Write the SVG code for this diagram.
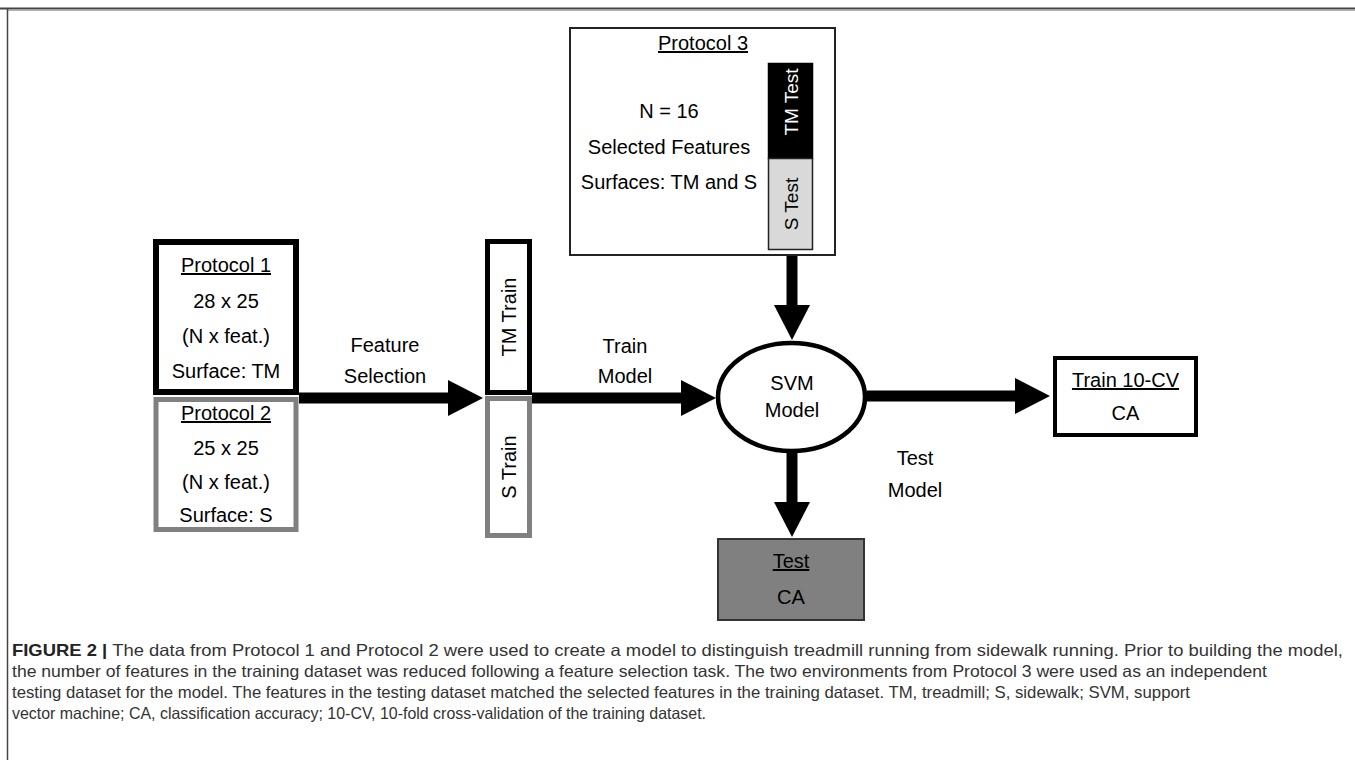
<svg xmlns="http://www.w3.org/2000/svg" width="1355" height="760" viewBox="0 0 1355 760">
<defs>
<style>
.t{font-family:"Liberation Sans",Arial,sans-serif;font-size:20px;fill:#000;text-anchor:middle}
.u{text-decoration:underline}
.cap{font-family:"Liberation Sans",Arial,sans-serif;font-size:16.5px;fill:#333}
.conn{stroke:#000;stroke-width:11;fill:none}
</style>
<marker id="ah" markerUnits="userSpaceOnUse" markerWidth="36" markerHeight="36" refX="15" refY="18" orient="auto">
<path d="M0,0 L35,18 L0,36 z" fill="#000"/>
</marker>
</defs>
<rect x="0" y="0" width="1355" height="760" fill="#fff"/>
<g id="frame">
<line x1="0" y1="8.5" x2="1355" y2="8.5" stroke="#444" stroke-width="2"/>
<line x1="8" y1="10.5" x2="1355" y2="10.5" stroke="#b0b0b0" stroke-width="1"/>
<line x1="7.5" y1="9" x2="7.5" y2="760" stroke="#444" stroke-width="1.5"/>
</g>
<g id="connectors">
<line class="conn" x1="299" y1="398" x2="463" y2="398" marker-end="url(#ah)"/>
<line class="conn" x1="532" y1="398" x2="696" y2="398" marker-end="url(#ah)"/>
<line class="conn" x1="792" y1="256" x2="792" y2="320" marker-end="url(#ah)"/>
<line class="conn" x1="867" y1="396" x2="1030" y2="396" marker-end="url(#ah)"/>
<line class="conn" x1="792" y1="452" x2="792" y2="517" marker-end="url(#ah)"/>
</g>
<g id="labels">
<text class="t" x="385" y="352">Feature</text>
<text class="t" x="385" y="383">Selection</text>
<text class="t" x="625" y="353">Train</text>
<text class="t" x="625" y="383">Model</text>
<text class="t" x="915" y="465">Test</text>
<text class="t" x="915" y="497">Model</text>
</g>
<g id="protocol1">
<rect x="156" y="242" width="140" height="150" fill="#fff" stroke="#000" stroke-width="6"/>
<text class="t u" x="226" y="272">Protocol 1</text>
<text class="t" x="226" y="308">28 x 25</text>
<text class="t" x="226" y="343">(N x feat.)</text>
<text class="t" x="226" y="378">Surface: TM</text>
</g>
<g id="protocol2">
<rect x="156" y="399.5" width="140" height="130" fill="#fff" stroke="#808080" stroke-width="5"/>
<text class="t u" x="226" y="420">Protocol 2</text>
<text class="t" x="226" y="455">25 x 25</text>
<text class="t" x="226" y="489">(N x feat.)</text>
<text class="t" x="226" y="522">Surface: S</text>
</g>
<g id="tm-train">
<rect x="487.5" y="241.5" width="42" height="151" fill="#fff" stroke="#000" stroke-width="5"/>
<text class="t" transform="translate(508.5 317) rotate(-90)" y="7">TM Train</text>
</g>
<g id="s-train">
<rect x="487.5" y="398.5" width="42" height="137" fill="#fff" stroke="#808080" stroke-width="5"/>
<text class="t" transform="translate(508.5 467) rotate(-90)" y="7">S Train</text>
</g>
<g id="protocol3">
<rect x="570" y="28" width="265" height="227" fill="#fff" stroke="#222" stroke-width="2"/>
<text class="t u" x="703" y="50">Protocol 3</text>
<text class="t" x="669" y="118">N = 16</text>
<text class="t" x="669" y="154">Selected Features</text>
<text class="t" x="669" y="189">Surfaces: TM and S</text>
</g>
<g id="tm-test">
<rect x="768.5" y="63.5" width="44" height="95" fill="#000" stroke="#000" stroke-width="1.5"/>
<text class="t" style="fill:#fff;font-size:19px" transform="translate(791 102) rotate(-90)" y="7">TM Test</text>
</g>
<g id="s-test">
<rect x="768.5" y="158.5" width="44" height="91" fill="#d9d9d9" stroke="#222" stroke-width="1.5"/>
<text class="t" style="font-size:19px" transform="translate(791 204) rotate(-90)" y="7">S Test</text>
</g>
<g id="svm">
<ellipse cx="791.5" cy="397" rx="73.5" ry="54" fill="#fff" stroke="#000" stroke-width="4.5"/>
<text class="t" x="792" y="390">SVM</text>
<text class="t" x="792" y="417">Model</text>
</g>
<g id="train10cv">
<rect x="1055" y="358" width="141" height="77" fill="#fff" stroke="#000" stroke-width="4"/>
<text class="t u" x="1125.5" y="387">Train 10-CV</text>
<text class="t" x="1125.5" y="420">CA</text>
</g>
<g id="test">
<rect x="718" y="539" width="146" height="81" fill="#808080" stroke="#333" stroke-width="2"/>
<text class="t u" x="791" y="568">Test</text>
<text class="t" x="791" y="604">CA</text>
</g>
<g id="caption">
<text class="cap" x="12" y="656" textLength="1331" lengthAdjust="spacingAndGlyphs"><tspan font-weight="bold" fill="#222">FIGURE 2 | </tspan>The data from Protocol 1 and Protocol 2 were used to create a model to distinguish treadmill running from sidewalk running. Prior to building the model,</text>
<text class="cap" x="12" y="677" textLength="1255" lengthAdjust="spacingAndGlyphs">the number of features in the training dataset was reduced following a feature selection task. The two environments from Protocol 3 were used as an independent</text>
<text class="cap" x="12" y="698" textLength="1178" lengthAdjust="spacingAndGlyphs">testing dataset for the model. The features in the testing dataset matched the selected features in the training dataset. TM, treadmill; S, sidewalk; SVM, support</text>
<text class="cap" x="12" y="719" textLength="694" lengthAdjust="spacingAndGlyphs">vector machine; CA, classification accuracy; 10-CV, 10-fold cross-validation of the training dataset.</text>
</g>
</svg>
